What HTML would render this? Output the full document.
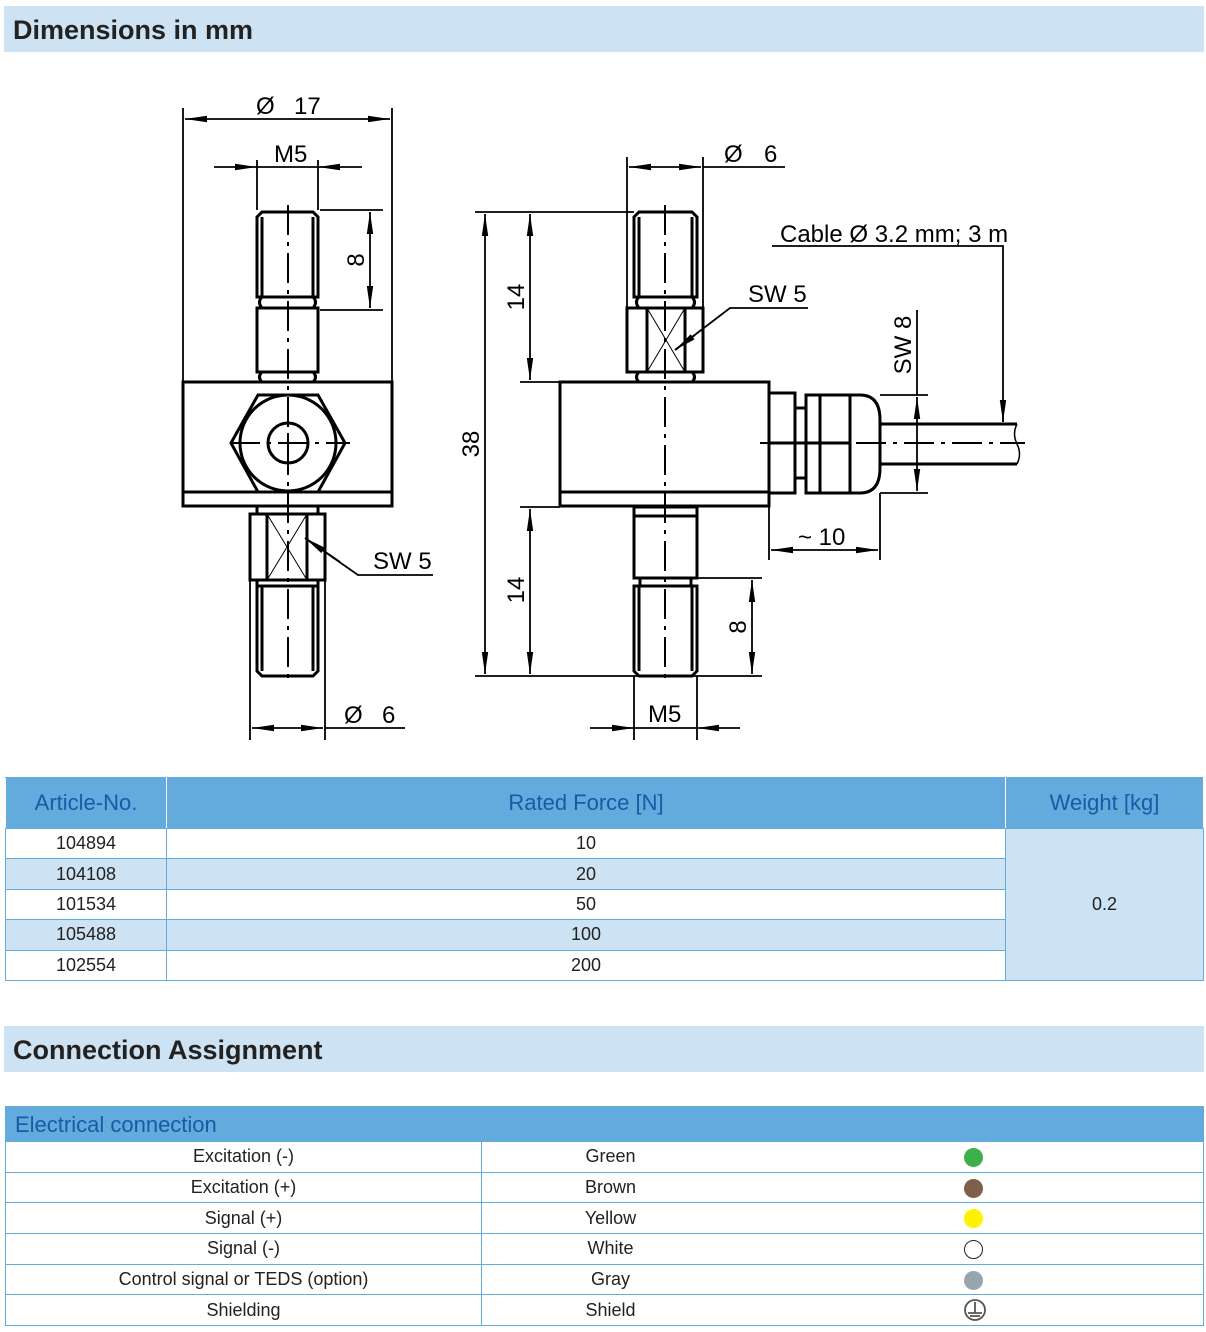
<!DOCTYPE html>
<html><head><meta charset="utf-8"><style>
body{margin:0;width:1206px;height:1332px;background:#fff;font-family:"Liberation Sans",Arial,sans-serif;position:relative;overflow:hidden}
.h{position:absolute;left:4px;width:1200px;height:46px;background:#cde3f3;font-weight:bold;font-size:27px;color:#222;line-height:48px;box-sizing:border-box;padding-left:9px}
table{position:absolute;border-collapse:collapse;font-size:18px;color:#222}
td{border:1px solid #62abdc;text-align:center;padding:0;height:29.4px}
.e td{height:29.7px}
.th td{background:#62abdc;color:#1a5aa6;font-size:22px;height:50px;border-color:#62abdc #fff}
.b td{background:#cde3f3}
.e td:nth-child(2){border-right:none}
.e td:nth-child(3){border-left:none;text-align:left;padding-left:225px}
.dot{display:inline-block;width:19px;height:19px;border-radius:50%;vertical-align:middle}
svg text{font-family:"Liberation Sans Narrow","Liberation Sans",sans-serif;font-size:24px;fill:#000}
</style></head><body>
<div class="h" style="top:6px">Dimensions in mm</div>
<svg width="1206" height="770" style="position:absolute;left:0;top:0">
<defs>
<marker id="a" viewBox="0 0 22 8" refX="22" refY="4" markerWidth="22" markerHeight="8" markerUnits="userSpaceOnUse" orient="auto-start-reverse" preserveAspectRatio="none"><path d="M0,0.8L22,4L0,7.2z"/></marker>
</defs>
<g stroke="#000" fill="none" stroke-width="3">
<path d="M262,212h51l5,5v80h-61v-80z"/>
<path d="M262,217v80M313,217v80"/>
<path d="M257,308h61v64h-61z"/>
<path d="M262,297q-5,5,0,11M313,297q5,5,0,11M262,372q-5,5,0,10M313,372q5,5,0,10"/>
<rect x="183" y="382" width="209" height="124"/>
<path d="M183,492h209"/>
<path d="M231,443L258,395H318L345,443L318,492H258Z"/>
<circle cx="288" cy="443" r="48"/>
<circle cx="288" cy="443" r="20"/>
<rect x="250" y="514" width="75" height="66"/>
<path d="M267,514v66M307,514v66M257,506v8M318,506v8"/>
<path d="M257,580v6M318,580v6"/>
<path d="M257,586h61v85l-5,5h-51l-5,-5z"/>
<path d="M262,586v85M313,586v85"/>
<path d="M639,212h53l5,5v80h-63v-80z"/>
<path d="M639,217v80M692,217v80"/>
<rect x="627" y="308" width="76" height="64"/>
<path d="M647,308v64M685,308v64"/>
<path d="M639,297q-5,5,0,11M692,297q5,5,0,11M639,372q-5,5,0,10M692,372q5,5,0,10"/>
<rect x="560" y="382" width="209" height="124"/>
<path d="M560,492h209"/>
<path d="M634,507h63v71h-63zM634,516h63"/>
<path d="M640,578v8M691,578v8"/>
<path d="M634,586h63v85l-5,5h-53l-5,-5z"/>
<path d="M639,586v85M692,586v85"/>
<rect x="769" y="393" width="26" height="100"/>
<rect x="795" y="408" width="11" height="70"/>
<rect x="806" y="395" width="14" height="98"/>
<path d="M820,395h30v98h-30z"/>
<path d="M850,395h10q20,0,20,25v48q0,25,-20,25h-10"/>
<path d="M769,443h81"/>
<path d="M880,424h137M880,464h137"/>
</g>
<g stroke="#000" fill="none" stroke-width="1">
<path d="M267,514l40,66M307,514l-40,66M647,308l38,64M685,308l-38,64"/>
<path d="M1017,424q-5,10,0,20q5,10,0,20" stroke-width="1.5"/>
</g>
<g stroke="#000" fill="none" stroke-width="2" stroke-dasharray="30,7,4,7">
<path d="M288,205v480M230,443h120M665,205v480M760,443h265"/>
</g>
<path d="M278,443h20M288,433v20" stroke="#000" stroke-width="2"/>
<g stroke="#000" fill="none" stroke-width="1.8">
<path d="M183,108v274M392,108v274"/>
<path d="M185,119h205" marker-start="url(#a)" marker-end="url(#a)"/>
<path d="M257,160v50M318,160v50"/>
<path d="M214,167h43" marker-end="url(#a)"/><path d="M362,167h-44" marker-end="url(#a)"/><path d="M257,167h61"/>
<path d="M320,210h63M320,310h63"/>
<path d="M370,212v96" marker-start="url(#a)" marker-end="url(#a)"/>
<path d="M305,538l53,37h75"/>
<path d="M340,562l-35,-24" marker-end="url(#a)"/>
<path d="M250,580v160M325,580v160"/>
<path d="M252,728h71" marker-start="url(#a)" marker-end="url(#a)"/><path d="M325,728h80"/>
<path d="M627,157v151M703,157v151"/>
<path d="M629,167h72" marker-start="url(#a)" marker-end="url(#a)"/><path d="M703,167h82"/>
<path d="M475,212h159M475,676h287"/>
<path d="M485,214v460" marker-start="url(#a)" marker-end="url(#a)"/>
<path d="M520,382h40M520,507h40"/>
<path d="M530,214v166" marker-start="url(#a)" marker-end="url(#a)"/>
<path d="M530,509v165" marker-start="url(#a)" marker-end="url(#a)"/>
<path d="M697,578h65"/>
<path d="M752,580v94" marker-start="url(#a)" marker-end="url(#a)"/>
<path d="M634,676v64M697,676v64"/>
<path d="M590,728h44" marker-end="url(#a)"/><path d="M740,728h-43" marker-end="url(#a)"/><path d="M634,728h63"/>
<path d="M880,395h48M880,493h48"/>
<path d="M917,310v85"/>
<path d="M917,397v94" marker-start="url(#a)" marker-end="url(#a)"/>
<path d="M769,506v54M880,493v67"/>
<path d="M771,550h107" marker-start="url(#a)" marker-end="url(#a)"/>
<path d="M772,246h231v176" /><path d="M1003,400v22" marker-end="url(#a)"/>
<path d="M675,350l55,-42h78"/><path d="M695,335l-20,15" marker-end="url(#a)"/>
</g>
<text x="256" y="114">Ø</text><text x="294" y="114">17</text>
<text x="274" y="162">M5</text>
<text transform="translate(364,260) rotate(-90)" text-anchor="middle">8</text>
<text x="373" y="569">SW 5</text>
<text x="344" y="723">Ø</text><text x="382" y="723">6</text>
<text x="724" y="162">Ø</text><text x="764" y="162">6</text>
<text x="780" y="242">Cable Ø 3.2 mm; 3 m</text>
<text x="748" y="302">SW 5</text>
<text transform="translate(911,345) rotate(-90)" text-anchor="middle">SW 8</text>
<text transform="translate(479,444) rotate(-90)" text-anchor="middle">38</text>
<text transform="translate(524,297) rotate(-90)" text-anchor="middle">14</text>
<text transform="translate(524,590) rotate(-90)" text-anchor="middle">14</text>
<text transform="translate(746,627) rotate(-90)" text-anchor="middle">8</text>
<text x="648" y="722">M5</text>
<text x="798" y="545">~ 10</text>
</svg>
<table style="left:5px;top:777px;width:1199px">
<tr class="th"><td style="width:160px">Article-No.</td><td>Rated Force [N]</td><td style="width:197px">Weight [kg]</td></tr>
<tr><td>104894</td><td>10</td><td rowspan="5" style="background:#cde3f3">0.2</td></tr>
<tr class="b"><td>104108</td><td>20</td></tr>
<tr><td>101534</td><td>50</td></tr>
<tr class="b"><td>105488</td><td>100</td></tr>
<tr><td>102554</td><td>200</td></tr>
</table>
<div class="h" style="top:1026px">Connection Assignment</div>
<div style="position:absolute;left:5px;top:1106px;width:1199px;height:35px;background:#62abdc;color:#1a5aa6;font-size:22px;line-height:38px;padding-left:10px;box-sizing:border-box">Electrical connection</div>
<table class="e" style="left:5px;top:1141px;width:1199px">
<tr><td style="width:475px">Excitation (-)</td><td style="width:257px">Green</td><td><span class="dot" style="background:#3db04a"></span></td></tr>
<tr><td>Excitation (+)</td><td>Brown</td><td><span class="dot" style="background:#7f5e4b"></span></td></tr>
<tr><td>Signal (+)</td><td>Yellow</td><td><span class="dot" style="background:#fff200"></span></td></tr>
<tr><td>Signal (-)</td><td>White</td><td><span class="dot" style="border:1.5px solid #222;box-sizing:border-box"></span></td></tr>
<tr><td>Control signal or TEDS (option)</td><td>Gray</td><td><span class="dot" style="background:#97a5ad"></span></td></tr>
<tr><td>Shielding</td><td>Shield</td><td><svg width="24" height="24" style="vertical-align:middle" viewBox="0 0 24 24"><circle cx="11" cy="12" r="10" fill="none" stroke="#555" stroke-width="1.8"/><path d="M11,4v11M4,15h14M6,18h10" stroke="#555" stroke-width="1.8"/></svg></td></tr>
</table>
</body></html>
